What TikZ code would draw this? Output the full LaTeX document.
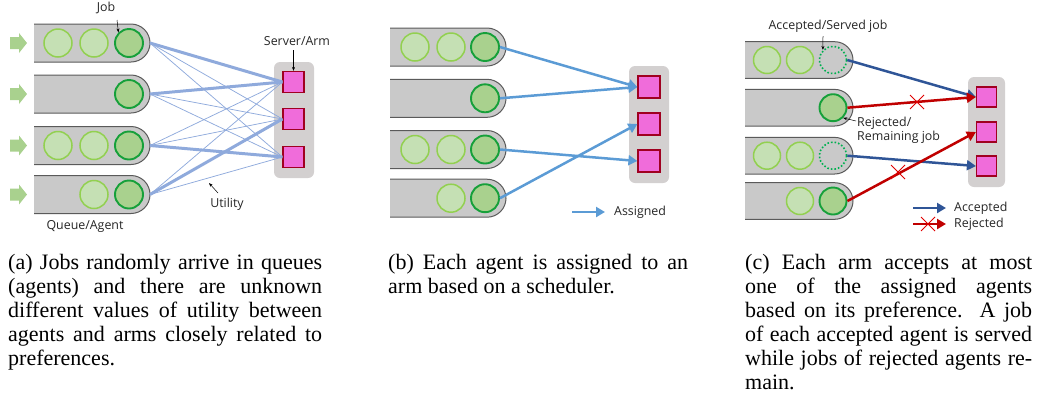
\documentclass[tikz,border=0pt]{standalone}
\usepackage{fontspec}
\setmainfont{Liberation Serif}
\newfontfamily\lblfont{Open Sans}
\usetikzlibrary{arrows.meta}
\definecolor{qgray}{HTML}{C9C9C9}
\definecolor{qedge}{HTML}{5A5A5A}
\definecolor{lightfill}{HTML}{C5E0B4}
\definecolor{lightedge}{HTML}{92D050}
\definecolor{darkfill}{HTML}{A9D18E}
\definecolor{darkedge}{HTML}{16A03A}
\definecolor{dotedge}{HTML}{00B050}
\definecolor{arrowgreen}{HTML}{A9D18E}
\definecolor{boxgray}{HTML}{D3D0D0}
\definecolor{armfill}{HTML}{F06CDA}
\definecolor{armedge}{HTML}{A00020}
\definecolor{utilblue}{HTML}{8FAADC}
\definecolor{assignblue}{HTML}{5B9BD5}
\definecolor{accblue}{HTML}{2F5597}
\definecolor{rejred}{HTML}{C00000}
\definecolor{xred}{HTML}{E00000}
\newcommand\myqueue[4]{%
  \fill[qgray] (#1,#3-#4) -- (#2-#4,#3-#4) arc[start angle=-90,end angle=90,radius=#4] -- (#1,#3+#4) -- cycle;
  \draw[qedge,line width=1pt] (#1,#3-#4) -- (#2-#4,#3-#4) arc[start angle=-90,end angle=90,radius=#4] -- (#1,#3+#4);}
\newcommand\ingreen[1]{%
  \fill[arrowgreen] (10,#1-6) -- (19,#1-6) -- (19,#1-10) -- (27,#1) -- (19,#1+10) -- (19,#1+6) -- (10,#1+6) -- cycle;}
\newcommand\redx[2]{%
  \draw[xred,line width=0.9pt] (#1-7,#2-7) -- (#1+7,#2+7) (#1-7,#2+7) -- (#1+7,#2-7);}
\tikzset{
  lightjob/.style={circle,draw=lightedge,fill=lightfill,line width=1.5pt,minimum size=#1,inner sep=0pt},
  darkjob/.style={circle,draw=darkedge,fill=darkfill,line width=1.9pt,minimum size=#1,inner sep=0pt},
  servedjob/.style={circle,draw=dotedge,line width=1.6pt,dash pattern=on 1.6pt off 2pt,minimum size=#1,inner sep=0pt},
  srvbox/.style={fill=boxgray,rounded corners=6pt},
  arm/.style={draw=armedge,fill=armfill,line width=1.2pt,minimum size=#1,inner sep=0pt},
  utilthick/.style={utilblue,line width=3pt},
  utilthin/.style={utilblue,line width=0.75pt},
  assigned/.style={assignblue,line width=2.5pt,-{Triangle[length=9pt,width=10pt]}},
  accepted/.style={accblue,line width=2.5pt,-{Triangle[length=9pt,width=10pt]}},
  rejected/.style={rejred,line width=2.5pt,-{Triangle[length=9pt,width=10pt]}},
  lbl/.style={font=\lblfont\fontsize{12.4}{14}\selectfont,inner sep=0pt,text=black!85},
  ptr/.style={black,line width=0.5pt,-{Stealth[length=4pt,width=3pt]}},
  captext/.style={font=\fontsize{22}{24}\selectfont,inner sep=0pt,anchor=north west,align=justify}
}
\begin{document}
\begin{tikzpicture}[x=1pt,y=-1pt]
\useasboundingbox (0,0) rectangle (1044,408);
% ---------- panel (a)
\foreach \y in {43,94,145.5,194.5} {\myqueue{34}{150}{\y}{19}\ingreen{\y}}
\node[lightjob=28] (a11) at (58,43) {};
\node[lightjob=28] (a12) at (94,43) {};
\node[darkjob=28] (a13) at (129,43) {};
\node[darkjob=28] (a23) at (129,94) {};
\node[lightjob=28] (a31) at (58,145.5) {};
\node[lightjob=28] (a32) at (94,145.5) {};
\node[darkjob=28] (a33) at (129,145.5) {};
\node[lightjob=28] (a42) at (94,194.5) {};
\node[darkjob=28] (a43) at (129,194.5) {};
\coordinate (qa1) at (150,43);
\coordinate (qa2) at (150,94);
\coordinate (qa3) at (150,145.5);
\coordinate (qa4) at (150,194.5);
\fill[srvbox] (274,62) rectangle (314,178);
\node[arm=21] (sa1) at (293.5,82) {};
\node[arm=21] (sa2) at (293.5,119) {};
\node[arm=21] (sa3) at (293.5,157) {};
\foreach \q in {1,2,3,4} \foreach \s in {1,2,3} {\draw[utilthin] (qa\q) -- (sa\s.west);}
\draw[utilthick] (qa1) -- (sa1.west);
\draw[utilthick] (qa2) -- (sa1.west);
\draw[utilthick] (qa3) -- (sa3.west);
\draw[utilthick] (qa4) -- (sa2.west);
\node[lbl] (job) at (106,8) {Job};
\coordinate (jobp) at (117,20);
\draw[ptr] (jobp) -- (a13.north west);
\node[lbl] (srvlbl) at (297,41) {Server/Arm};
\coordinate (srvp) at (293.5,50);
\draw[ptr] (srvp) -- (sa1.north);
\node[lbl] (util) at (227,204) {Utility};
\coordinate (utp0) at (218,193);
\coordinate (utp1) at (209,183);
\draw[ptr] (utp0) -- (utp1);
\node[lbl] (qlbl) at (85,226) {Queue/Agent};
% ---------- panel (b)
\foreach \y in {47,98.3,149.5,198.2} {\myqueue{390}{506}{\y}{19}}
\node[lightjob=28] (b11) at (415,47) {};
\node[lightjob=28] (b12) at (451,47) {};
\node[darkjob=28] (b13) at (485,47) {};
\node[darkjob=28] (b23) at (485,98.3) {};
\node[lightjob=28] (b31) at (415,149.5) {};
\node[lightjob=28] (b32) at (451,149.5) {};
\node[darkjob=28] (b33) at (485,149.5) {};
\node[lightjob=28] (b42) at (451,198.2) {};
\node[darkjob=28] (b43) at (485,198.2) {};
\fill[srvbox] (629,66) rectangle (669,183);
\node[arm=22] (sb1) at (649,87) {};
\node[arm=22] (sb2) at (649,124) {};
\node[arm=22] (sb3) at (649,161) {};
\draw[assigned] (b13.east) -- (sb1.west);
\draw[assigned] (b23.east) -- (sb1.west);
\draw[assigned] (b33.east) -- (sb3.west);
\draw[assigned] (b43.east) -- (sb2.west);
\coordinate (lgb0) at (572,212);
\coordinate (lgb1) at (605,212);
\node[lbl,anchor=west] (asslbl) at (614,212) {Assigned};
\draw[assigned] (lgb0) -- (lgb1);
% ---------- panel (c)
\foreach \y in {60,107.7,155.7,201} {\myqueue{745}{853}{\y}{18.3}}
\node[lightjob=27] (c11) at (767,60) {};
\node[lightjob=27] (c12) at (800,60) {};
\node[servedjob=27] (c13) at (833,60) {};
\node[darkjob=27] (c23) at (833,107.7) {};
\node[lightjob=27] (c31) at (767,155.7) {};
\node[lightjob=27] (c32) at (800,155.7) {};
\node[servedjob=27] (c33) at (833,155.7) {};
\node[lightjob=27] (c42) at (800,201) {};
\node[darkjob=27] (c43) at (833,201) {};
\fill[srvbox] (968,77) rectangle (1005,187);
\node[arm=20] (sc1) at (986.5,97) {};
\node[arm=20] (sc2) at (986.5,132) {};
\node[arm=20] (sc3) at (986.5,166) {};
\draw[accepted] (c13.east) -- (sc1.west);
\draw[rejected] (c23.east) -- (sc1.west);
\draw[accepted] (c33.east) -- (sc3.west);
\draw[rejected] (c43.east) -- (sc2.west);
\redx{917}{102}
\redx{898}{172}
\node[lbl] (acclbl) at (828,26) {Accepted/Served job};
\coordinate (accp) at (823,36);
\draw[ptr] (accp) -- (c13.north west);
\node[lbl,anchor=west,align=left] (rejlbl) at (857,130) {Rejected/\\Remaining job};
\coordinate (rejp) at (856,121);
\draw[ptr] (rejp) -- (c23.south east);
\node[lbl,anchor=west] (lacc) at (954,208) {Accepted};
\node[lbl,anchor=west] (lrej) at (954,224) {Rejected};
\coordinate (la0) at (913,208);
\coordinate (la1) at (946,208);
\coordinate (lr0) at (913,224);
\coordinate (lr1) at (946,224);
\draw[accepted] (la0) -- (la1);
\draw[rejected] (lr0) -- (lr1);
\redx{928}{224}
% ---------- captions
\node[captext,text width=314pt] (capa) at (8,254) {(a) Jobs randomly arrive in queues\linebreak (agents) and there are unknown\linebreak different values of utility between\linebreak agents and arms closely related to\linebreak preferences.};
\node[captext,text width=300pt] (capb) at (388,254) {(b) Each agent is assigned to an\linebreak arm based on a scheduler.};
\node[captext,text width=287pt] (capc) at (745,254) {(c) Each arm accepts at most\linebreak one of the assigned agents\linebreak based on its preference. A job\linebreak of each accepted agent is served\linebreak while jobs of rejected agents re-\linebreak main.};
\end{tikzpicture}
\end{document}
